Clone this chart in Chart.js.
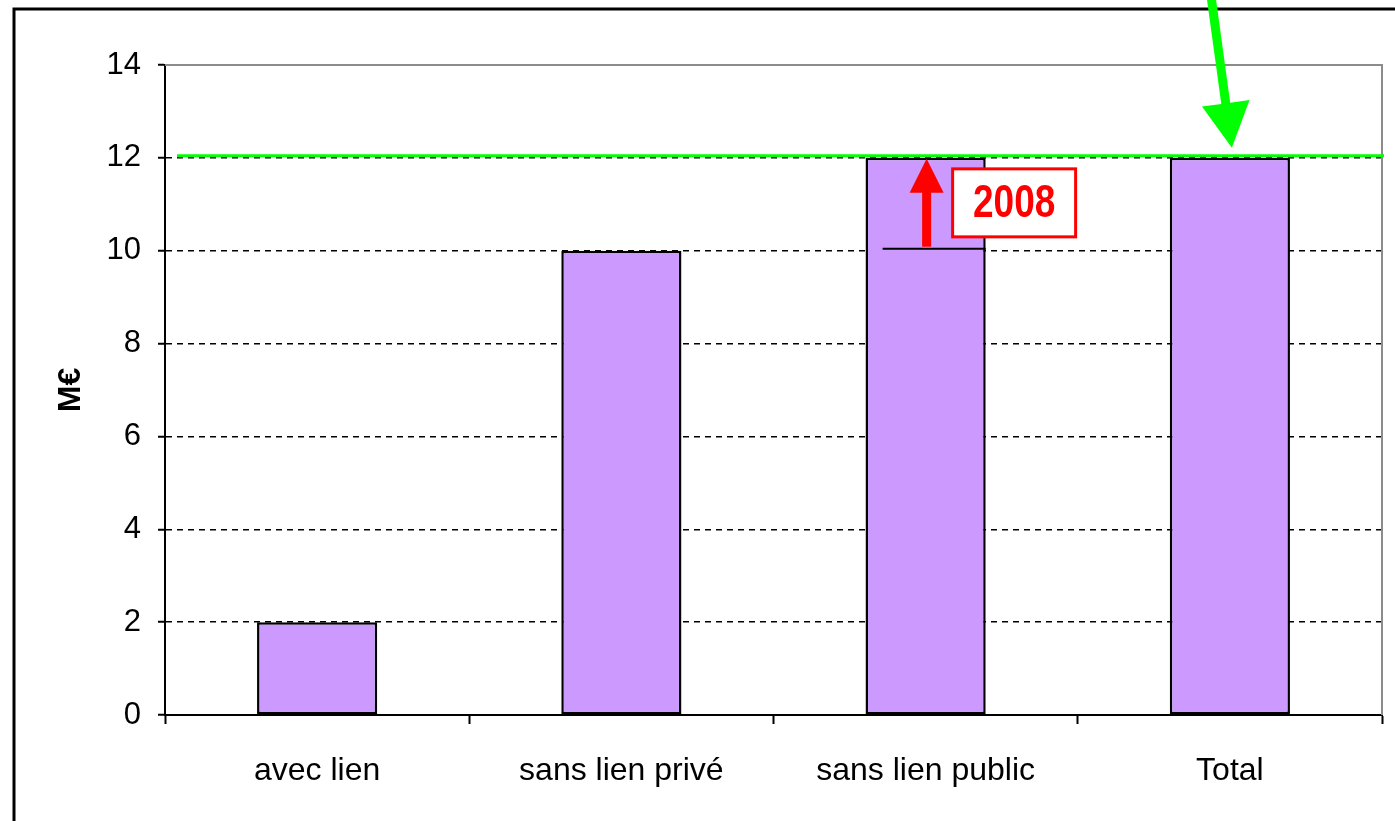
<!DOCTYPE html>
<html>
<head>
<meta charset="utf-8">
<script src="https://cdn.jsdelivr.net/npm/chart.js@4/dist/chart.umd.min.js"></script>
<style>
  html, body { margin: 0; padding: 0; background: #fff; }
  #wrap { width: 1395px; height: 821px; position: relative; }
</style>
</head>
<body>
<div id="wrap"><canvas id="c" width="1395" height="821"></canvas></div>
<script>
// ---- Data ----
const categories = ['avec lien', 'sans lien privé', 'sans lien public', 'Total'];
const values = [2, 10, 12, 12];
const yTickValues = [0, 2, 4, 6, 8, 10, 12, 14];
const yAxisTitle = 'M€';
const annotationLabel = '2008';
const previousLevel = 10;   // level before 2008 (sans lien public)
const targetLevel = 12;     // green reference line

const FONT = "'Liberation Sans', Arial, sans-serif";

const annotations = {
  id: 'annotations',
  beforeDraw(chart) {
    const ctx = chart.ctx;
    ctx.save();
    ctx.fillStyle = '#fff';
    ctx.fillRect(0, 0, chart.width, chart.height);
    ctx.restore();
  },
  afterDatasetsDraw(chart) {
    const ctx = chart.ctx;
    const y = chart.scales.y;
    const a = chart.chartArea;
    const bars = chart.getDatasetMeta(0).data;
    ctx.save();

    // plot area frame (top & right) in grey
    ctx.strokeStyle = '#8c8c8c';
    ctx.lineWidth = 2;
    ctx.beginPath();
    ctx.moveTo(a.left, a.top);
    ctx.lineTo(a.right, a.top);
    ctx.lineTo(a.right, a.bottom);
    ctx.stroke();

    // outer frame
    ctx.strokeStyle = '#000';
    ctx.lineWidth = 3;
    ctx.strokeRect(14, 9, 1400, 830);

    // green reference line
    const yT = y.getPixelForValue(targetLevel) - 2;
    ctx.strokeStyle = '#00ff00';
    ctx.lineWidth = 3;
    ctx.beginPath();
    ctx.moveTo(a.left + 12, yT);
    ctx.lineTo(a.right + 2, yT);
    ctx.stroke();

    // previous level marker on 'sans lien public'
    const b = bars[2];
    const yP = y.getPixelForValue(previousLevel) - 2;
    ctx.strokeStyle = '#000';
    ctx.lineWidth = 2;
    ctx.beginPath();
    ctx.moveTo(b.x - 43, yP);
    ctx.lineTo(b.x + b.width / 2, yP);
    ctx.stroke();

    // red arrow up
    const yTip = y.getPixelForValue(targetLevel) + 1;
    const ax = b.x + 1;
    ctx.fillStyle = '#ff0000';
    ctx.fillRect(ax - 4.5, yTip + 30, 9, yP - 2 - (yTip + 30));
    ctx.beginPath();
    ctx.moveTo(ax, yTip);
    ctx.lineTo(ax + 17, yTip + 34);
    ctx.lineTo(ax - 17, yTip + 34);
    ctx.closePath();
    ctx.fill();

    // red label box
    const bx = b.x + 27, by = yTip + 10, bw = 123, bh = 68;
    ctx.fillStyle = '#fff';
    ctx.fillRect(bx, by, bw, bh);
    ctx.strokeStyle = '#ff0000';
    ctx.lineWidth = 3;
    ctx.strokeRect(bx, by, bw, bh);
    ctx.save();
    ctx.translate(bx + bw / 2, by + bh / 2 + 1);
    ctx.scale(1, 1.25);
    ctx.fillStyle = '#ff0000';
    ctx.font = 'bold 37px ' + FONT;
    ctx.textAlign = 'center';
    ctx.textBaseline = 'middle';
    ctx.fillText(annotationLabel, 0, 0);
    ctx.restore();

    // green arrow pointing to Total
    const t = bars[3];
    const tipX = t.x + 2, tipY = y.getPixelForValue(targetLevel) - 10;
    const sx = tipX - 21, sy = -5;
    const dx = tipX - sx, dy = tipY - sy, len = Math.hypot(dx, dy);
    const ux = dx / len, uy = dy / len, px = -uy, py = ux;
    const headLen = 45, headHalf = 24, shaftHalf = 4.5;
    const hbx = tipX - ux * headLen, hby = tipY - uy * headLen;
    ctx.fillStyle = '#00ff00';
    ctx.beginPath();
    ctx.moveTo(sx + px * shaftHalf, sy + py * shaftHalf);
    ctx.lineTo(hbx + px * shaftHalf, hby + py * shaftHalf);
    ctx.lineTo(hbx + px * headHalf, hby + py * headHalf);
    ctx.lineTo(tipX, tipY);
    ctx.lineTo(hbx - px * headHalf, hby - py * headHalf);
    ctx.lineTo(hbx - px * shaftHalf, hby - py * shaftHalf);
    ctx.lineTo(sx - px * shaftHalf, sy - py * shaftHalf);
    ctx.closePath();
    ctx.fill();

    ctx.restore();
  }
};

new Chart(document.getElementById('c'), {
  type: 'bar',
  data: {
    labels: categories,
    datasets: [{
      data: values,
      backgroundColor: '#cc99ff',
      borderColor: '#000',
      borderWidth: 2.5,
      borderSkipped: false,
      categoryPercentage: 1,
      barPercentage: 0.395
    }]
  },
  options: {
    responsive: false,
    animation: false,
    devicePixelRatio: 1,
    layout: { padding: { top: 65, right: 13, left: 0, bottom: 0 } },
    plugins: { legend: { display: false }, tooltip: { enabled: false } },
    scales: {
      x: {
        afterFit(s) { s.height = 106; },
        grid: {
          offset: true,
          drawOnChartArea: false,
          tickLength: 9,
          tickColor: '#000',
          tickWidth: 2
        },
        border: { color: '#000', width: 2 },
        ticks: { color: '#000', font: { family: FONT, size: 32 }, padding: 28, maxRotation: 0 }
      },
      y: {
        min: 0,
        max: 14,
        afterFit(s) { s.width = 165; },
        afterBuildTicks(s) { s.ticks = yTickValues.map(v => ({ value: v })); },
        grid: {
          color: (c) => (c.tick && (c.tick.value === 0 || c.tick.value === 14)) ? 'rgba(0,0,0,0)' : '#000',
          lineWidth: 1.5,
          tickLength: 7,
          tickColor: '#000',
          tickWidth: 2,
          tickBorderDash: []
        },
        border: { color: '#000', width: 2, dash: [6, 5] },
        ticks: { color: '#000', font: { family: FONT, size: 31 }, padding: 17 },
        title: {
          display: true,
          text: yAxisTitle,
          color: '#000',
          font: { family: FONT, size: 32, weight: 'bold' },
          padding: { top: 52, bottom: 0 }
        }
      }
    }
  },
  plugins: [annotations]
});
</script>
</body>
</html>
